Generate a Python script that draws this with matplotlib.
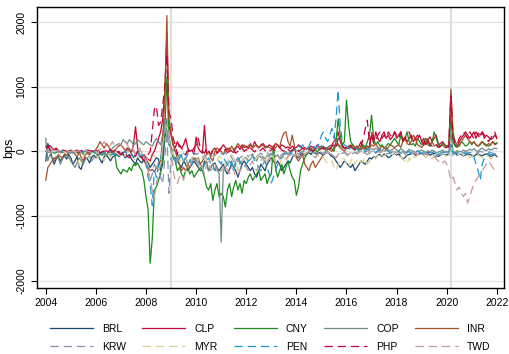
import numpy as np
import matplotlib
matplotlib.use("Agg")
import matplotlib.pyplot as plt

# monthly observations, Jan 2004 - Jan 2022 (bps)
brl = [
    -150, 120, 30, -100, -200, -120, -80, -150, -100, -60, -120, -50,
    -100, -200, -150, -80, -250, -280, -150, -100, -120, -180, -90, -60,
    -100, -50, -130, -180, -80, -60, -100, -150, -90, -70, -50, -80,
    -60, -40, -100, -80, -50, -120, -160, -200, -100, -150, -180, -120,
    -100, -180, -250, -200, -150, -100, -120, -300, -200, 200, 500, 150,
    50, -50, -100, -150, -200, -250, -150, -200, -300, -250, -200, -150,
    -200, -250, -300, -280, -150, -200, -300, -250, -200, -180, -250, -300,
    -250, -200, -300, -350, -280, -200, -250, -300, -400, -300, -200, -150,
    -200, -250, -300, -250, -350, -400, -300, -200, -250, -300, -200, -150,
    -100, -150, -200, -150, -200, -300, -250, -200, -150, -180, -100, -50,
    -80, -100, -50, -30, -60, -40, -20, -50, 0, -30, -50, -20,
    -40, -60, -30, -10, -50, -80, -100, -150, -200, -250, -200, -150,
    -180, -220, -250, -200, -300, -250, -200, -150, -180, -200, -150, -100,
    -120, -80, -100, -60, -50, -80, -40, -60, -100, -80, -50, -30,
    -60, -40, -80, -120, -100, -60, -50, -40, -30, -60, -50, -40,
    -30, -50, -40, -20, -60, -40, -30, -50, -80, -60, -40, -50,
    -60, -40, 100, -50, -30, -60, -40, -50, -70, -60, -40, -50,
    -60, -80, -50, -40, -60, -70, -50, -40, -60, -80, -70, -50,
    -80]
clp = [
    80, 60, 90, 50, 20, 30, 10, 0, 20, 10, 0, -10,
    20, 0, 10, -20, 0, 10, -10, 0, 20, 10, -10, 0,
    10, 0, -20, -10, 0, 10, -30, -10, 0, 20, -20, 0,
    -50, -30, 0, 50, 20, -20, 100, 380, 50, -80, -100, -50,
    -100, -120, -150, -50, 0, 100, 200, 300, 500, 900, 1820, 400,
    250, 100, 50, 150, 80, 50, 100, 200, 50, 0, 20, -50,
    220, 50, 0, -30, 400, -50, 0, -80, 20, 50, -30, 0,
    50, 100, 60, 20, 50, 0, -20, 50, 80, 30, 100, 60,
    80, 40, 100, 60, 150, 80, 50, 100, 120, 80, 60, 100,
    80, 50, 120, 100, 60, 100, 80, 50, 70, 40, 80, 50,
    60, 100, 80, 40, 60, 30, 50, 80, 60, 40, 100, 60,
    80, 50, 40, 60, 80, 100, 150, 200, 300, 150, 100, 50,
    60, 40, 80, 100, 60, 40, 80, 150, 60, 40, 80, 60,
    250, 120, 300, 200, 150, 250, 300, 200, 250, 180, 220, 300,
    200, 250, 300, 180, 220, 150, 200, 250, 150, 200, 180, 250,
    150, 200, 100, 180, 220, 150, 200, 250, 100, 120, 150, 100,
    80, 60, 900, 200, 100, 80, 150, 200, 250, 300, 250, 200,
    250, 300, 200, 280, 250, 300, 200, 250, 220, 180, 200, 250,
    200]
cny = [
    0, -20, -10, 0, -30, -20, 0, -10, -20, 0, -10, 0,
    -20, -10, 0, -30, -20, -10, -50, -40, -20, -30, -10, -20,
    -30, -50, -40, -60, -30, -50, -40, -60, -50, -30, -250, -300,
    -350, -280, -300, -320, -250, -300, -200, -220, -180, -250, -300, -450,
    -700, -900, -1730, -1350, -600, -550, -450, -350, -100, 300, 1150, 200,
    50, -100, -150, -300, -250, -350, -400, -300, -250, -350, -300, -400,
    -350, -300, -250, -300, -400, -550, -600, -500, -760, -600, -500, -700,
    -650, -700, -860, -600, -500, -700, -550, -450, -600, -500, -650, -450,
    -500, -400, -350, -450, -400, -350, -300, -450, -400, -350, -500, -400,
    -350, 90, -250, -400, -300, -200, -350, -250, -150, -300, -400, -450,
    -680, -550, -300, -200, -100, -50, 0, 50, 0, 30, -20, 50,
    80, 30, 60, 20, 50, 40, 0, 150, 500, 250, 100, 150,
    790, 400, 150, 100, 50, 80, 20, 50, 100, 60, 150, 250,
    560, 200, 100, 150, 80, 100, 50, 80, 120, 100, 150, 200,
    150, 100, 250, 150, 200, 300, 150, 100, 120, 80, 200, 150,
    100, 150, 200, 100, 80, 150, 300, 200, 100, 80, 120, 100,
    80, 100, 500, 150, 80, 60, 100, 150, 120, 80, 100, 150,
    120, 150, 100, 80, 100, 150, 120, 100, 80, 100, 150, 120,
    130]
cop = [
    200, -150, -50, -100, -150, -80, -100, -200, -120, -80, -60, -100,
    -150, -200, -250, -180, -100, -150, -200, -120, -100, -80, -150, -100,
    -80, -100, -50, 0, -50, -80, -30, 0, 50, 80, 100, 120,
    100, 180, 150, 120, 180, 150, 100, 120, 180, 150, 120, 100,
    150, 120, 100, 80, 150, 200, 150, 100, 250, 500, 300, 100,
    50, 20, 0, -50, -100, -80, -150, -100, -200, -150, -100, -120,
    -100, -150, -200, -250, -200, -150, -300, -250, -200, -300, -250, -350,
    -1400, -300, -250, -200, -150, -200, -250, -150, -100, -200, -150, -100,
    -100, -150, -120, -80, -100, -150, -50, -100, -80, -120, -60, -80,
    -50, -30, -80, -60, -100, -50, -30, 0, -50, -20, 0, 30,
    0, 20, -30, 0, 30, 50, 20, 0, 40, 20, 50, 30,
    60, 80, 40, 50, 80, 100, 50, 80, 120, 80, 60, 40,
    50, 80, 60, 40, 20, 50, 30, 60, 40, 20, 50, 30,
    40, 20, 50, 30, 0, 20, 40, 60, 20, 0, 30, 50,
    20, 0, 40, 20, -20, 0, 30, 10, 0, -20, 10, 0,
    20, 0, -20, 10, -10, 20, 0, -30, -10, 0, 20, -10,
    0, -20, 300, 0, -20, 10, 0, -10, 20, 0, 10, 30,
    20, 40, 10, 0, 30, 50, 20, 10, 40, 20, 30, 50,
    40]
inr = [
    -450, -250, -200, -150, -100, -120, -50, -80, -100, -40, -60, -20,
    -30, 0, -50, -80, -20, -100, -150, -50, -30, -60, -20, 0,
    30, 80, 150, 100, 50, 120, 80, 20, -50, 0, 50, 80,
    100, 60, 20, 0, 50, -50, -100, -50, 0, -80, -100, -150,
    -200, -250, -300, -280, -320, -250, -200, -150, 200, 800, 2100, 500,
    300, 100, 0, -100, -200, -300, -250, -300, -200, -250, -150, -100,
    -150, -100, -200, -150, -100, -50, 0, -100, -150, 0, 50, 30,
    0, -50, 20, 50, 0, 80, 30, 60, 120, 80, 50, 100,
    60, 80, 120, 50, 80, 100, 60, 80, 100, 50, 80, 60,
    40, 80, 50, 100, 60, 200, 280, 300, 150, 80, 250, 100,
    -100, -150, -100, -50, -200, -250, -300, -200, -150, -250, -200, -150,
    -100, -50, 0, 50, 20, 0, 50, 80, 100, 50, 30, 0,
    50, 80, 100, 50, 30, 80, 50, 20, 60, 40, 80, 50,
    100, 80, 120, 60, 40, 80, 50, 30, 60, 100, 80, 60,
    80, 100, 60, 150, 200, 120, 100, 150, 250, 200, 100, 80,
    60, 100, 150, 200, 100, 150, 80, 100, 60, 80, 100, 60,
    80, 100, 960, 300, 150, 100, 80, 150, 200, 250, 200, 150,
    100, 150, 100, 80, 120, 150, 100, 80, 120, 100, 150, 100,
    120]
krw = [
    0, -20, 10, -30, -10, 0, -20, -10, 0, -30, -10, 0,
    -20, -10, 0, -30, -50, -20, -10, 0, -20, -40, -10, 0,
    -30, -50, -20, 0, -60, -40, -30, -20, -50, -30, -10, -40,
    -20, -30, -10, 0, -20, 10, 0, -30, -20, 0, -50, -80,
    -150, -300, -450, -350, -200, -250, -300, -400, -500, -100, 300, -650,
    -100, -200, -150, -100, -50, -80, -30, -60, -20, -50, -30, -10,
    -50, -30, -80, -100, -60, -120, -80, -50, -30, -60, -40, -20,
    -30, -50, -20, -60, -40, -100, -150, -200, -150, -100, -80, -60,
    -50, -80, -60, -40, -100, -80, -50, -30, -60, -40, -20, -50,
    -30, -60, -80, -50, -120, -100, -60, -40, -30, -20, -50, -30,
    -20, -40, -30, -10, 0, -20, 10, -10, -30, -20, 0, -10,
    -20, -30, -10, -40, -20, -50, -80, -100, -60, -40, -30, -20,
    -50, -80, -60, -30, -20, -40, -10, 0, -20, -30, -50, -30,
    -20, -10, -30, 0, -20, -10, 0, -30, -40, -20, -10, 0,
    -10, -30, -20, 0, -40, -50, -30, -20, -10, -30, -20, -40,
    -30, -20, -40, -60, -80, -50, -60, -90, -40, -30, -20, -10,
    -20, -40, -100, -50, -30, -20, -10, 0, -20, -10, -30, -20,
    -20, -10, -30, -20, 0, -10, -20, -30, -10, -20, -30, -40,
    -30]
myr = [
    0, 0, 10, 0, -10, 0, 0, 10, 0, -10, 0, 0,
    0, 10, 0, -50, -220, -150, -80, -20, -50, -100, -30, 0,
    -50, -100, -30, -80, -150, -60, -20, -100, -40, 0, -30, -50,
    -60, -30, -80, 0, -50, -20, -100, -150, -80, -50, -30, -60,
    -80, -150, -200, -100, -50, -150, -250, -200, 100, 300, 450, 150,
    50, -50, -100, -150, -100, -200, -150, -100, -150, -200, -100, -50,
    -100, -150, -80, -50, -100, -150, -60, -30, -80, -100, -150, -80,
    -100, -150, -200, -150, -100, -50, -100, -150, -300, -200, -150, -100,
    -150, -100, -50, -80, -150, -100, -60, -50, -100, -150, -80, -50,
    -60, -100, -150, -80, -120, -200, -150, -100, -80, -50, -100, -60,
    -50, -80, -30, -10, -50, -20, 0, -30, -60, -100, -80, -50,
    -80, -100, -150, -200, -180, -150, -250, -300, -200, -150, -100, -120,
    -200, -250, -150, -100, -200, -150, -100, -180, -150, -100, -200, -150,
    -100, -80, -120, -60, -100, -50, -80, -40, -60, -30, -50, -20,
    -50, -100, -80, -120, -150, -200, -100, -150, -80, -100, -60, -50,
    -80, -60, -100, -50, -80, -120, -60, -40, -80, -50, -30, -60,
    -80, -100, 100, -50, -80, -60, -40, -30, -60, -80, -50, -100,
    -80, -60, -100, -50, -80, -100, -60, -50, -80, -120, -100, -80,
    -60]
pen = [
    20, 0, 30, 10, -20, 0, 20, -10, 0, 10, -20, 0,
    10, -30, 0, -20, 10, 0, -10, 20, 0, -30, -10, 0,
    -20, 0, -50, -30, -10, -40, -20, 0, -30, -50, -20, -10,
    -30, -20, 0, -40, -60, -30, -100, -50, -20, -80, -50, -100,
    -200, -400, -500, -835, -300, -400, -200, -100, 0, 300, 500, 100,
    50, -100, -150, -200, -100, -50, -150, -100, -50, -150, -200, -100,
    -150, -200, -250, -300, -200, -150, -100, -200, -250, -300, -200, -150,
    -200, -100, -150, -200, -250, -150, -300, -200, -100, -150, -200, -250,
    -200, -150, -100, -50, -150, -200, -250, -300, -200, -150, -250, -350,
    -490, -400, -300, -200, -150, -100, -50, -30, -80, -50, 0, 30,
    50, 80, 60, 100, 50, 30, 80, 150, 100, 50, 80, 120,
    250, 300, 200, 150, 250, 350, 200, 500, 945, 400, 150, 100,
    80, 50, 30, 60, 20, 40, 0, 30, 20, -10, 30, 10,
    20, 0, -20, 10, 30, 0, -10, 20, 0, -30, -10, 0,
    -20, 0, -30, -10, -50, -20, 0, -40, -30, -10, 0, -20,
    -30, -50, -20, -40, -10, -30, 0, -20, -50, -30, -10, -20,
    -40, -20, 100, -30, -20, -40, -50, -30, -20, -40, -30, -20,
    -50, -80, -200, -300, -450, -200, -100, -50, -30, -60, -40, -20,
    -50]
php = [
    50, 80, 20, 0, 30, 50, 10, -20, 0, 20, -10, 0,
    10, -20, 0, 20, -10, 0, 30, 10, -20, 0, 10, -10,
    0, 20, -30, -10, 10, -20, 0, 30, -10, 0, 20, -30,
    -50, -20, 0, -80, -100, -50, -30, -80, 0, -50, -100, -150,
    -100, -50, 0, 300, 650, 700, 400, 450, 700, 1000, 1500, 600,
    500, 200, 100, -50, 100, 50, 0, -50, 20, -30, 0, 50,
    100, 200, 50, 0, -30, 50, 0, -50, 20, 0, -30, 20,
    50, 0, 30, -20, 0, 50, 20, -30, 0, 20, 50, 0,
    30, 0, 50, 20, -10, 30, 0, 20, 50, 10, -20, 0,
    20, 50, 0, 30, 60, 20, 0, 50, 30, 0, 20, 50,
    30, 0, 20, 50, 30, 10, 40, 20, 0, 30, 50, 20,
    40, 60, 20, 50, 30, 80, 100, 50, 200, 150, 80, 50,
    60, 30, 80, 50, 20, 40, 60, 80, 200, 350, 480, 100,
    300, 200, 150, 250, 300, 200, 250, 200, 300, 250, 200, 300,
    250, 200, 300, 150, 200, 250, 300, 200, 150, 200, 250, 200,
    150, 100, 200, 150, 100, 80, 120, 100, 60, 80, 100, 50,
    60, 80, 850, 200, 150, 100, 200, 250, 300, 250, 200, 300,
    250, 200, 300, 250, 200, 300, 250, 200, 150, 200, 250, 300,
    200]
twd = [
    0, 30, -20, 10, -10, 0, 20, -30, 0, 10, -20, 0,
    -10, 20, -30, 0, 10, -20, 0, 30, -10, 0, -30, 10,
    0, -20, 30, 100, 150, 80, 50, 100, 150, 80, 50, 120,
    100, 80, 150, 100, 50, 80, 20, -50, 0, 50, -30, -80,
    -150, -300, -450, -600, -700, -500, -300, -200, 100, 300, 500, 200,
    0, -300, -450, -500, -400, -350, -450, -300, -200, -250, -150, -100,
    -150, -200, -300, -250, -350, -200, -150, -300, -250, -200, -300, -350,
    -300, -250, -200, -300, -350, -250, -300, -400, -350, -300, -250, -200,
    -250, -300, -200, -150, -250, -300, -200, -150, -100, -200, -150, -100,
    -150, -100, -200, -150, -100, -50, -100, -150, -80, -50, -100, -80,
    -50, -80, -30, -10, -40, -20, 0, -30, -60, -100, -50, -30,
    -20, -50, -30, -10, -40, -60, -80, -100, -50, -30, -20, -10,
    -30, -50, -20, 0, -30, -10, -20, 0, -30, -10, 0, -20,
    0, -10, 10, 0, -20, 0, 10, -10, 0, 20, 0, -10,
    -20, 0, -30, -10, -50, -80, -60, -40, -30, -20, -50, -30,
    -40, -60, -30, -50, -80, -100, -80, -120, -150, -200, -180, -150,
    -200, -300, -450, -400, -500, -600, -550, -650, -700, -650, -800, -700,
    -600, -500, -450, -400, -350, -300, -250, -200, -150, -200, -250, -300,
    -340]

names = ["BRL", "CLP", "CNY", "COP", "INR", "KRW", "MYR", "PEN", "PHP", "TWD"]
series = [brl, clp, cny, cop, inr, krw, myr, pen, php, twd]
colors = ["#1a476f", "#c10534", "#1a8a1a", "#6e8e84", "#a0522d",
          "#8393ad", "#d9cf9c", "#1f95d0", "#c10534", "#c29c98"]
dashed = [False] * 5 + [True] * 5

events = [2009.0, 2020.17]

plt.rcParams["font.family"] = ["Liberation Sans", "DejaVu Sans"]
plt.rcParams["lines.scale_dashes"] = False
plt.rcParams["axes.unicode_minus"] = False

fig = plt.figure(figsize=(5.1, 3.54), dpi=100)
ax = fig.add_axes([0.0725, 0.1864, 0.9155, 0.7938])

for v in events:
    ax.axvline(v, color="#dcdcdc", lw=1.3, zorder=1)

handles = []
for name, vals, c, d in zip(names, series, colors, dashed):
    t = 2004 + np.arange(len(vals)) / 12
    ln, = ax.plot(t, vals, color=c, lw=0.9, label=name, zorder=2)
    if d:
        ln.set_dashes((6, 3.5))
    handles.append(ln)

ax.set_xlim(2003.65, 2022.28)
ax.set_ylim(-2114, 2231)
ax.set_xticks(range(2004, 2023, 2))
ax.set_yticks([-2000, -1000, 0, 1000, 2000])
ax.grid(axis="y", color="#e4e4e4", lw=1.0, zorder=0)
ax.set_axisbelow(True)
ax.tick_params(labelsize=7.5, length=4, width=0.8, color="black")
for lbl in ax.get_yticklabels():
    lbl.set_rotation(90)
    lbl.set_va("center")
for s in ax.spines.values():
    s.set_linewidth(1.0)
ax.set_ylabel("bps", fontsize=9, labelpad=1)

# legend is filled column by column, so interleave the two rows
order = [0, 5, 1, 6, 2, 7, 3, 8, 4, 9]
fig.legend([handles[i] for i in order], [names[i] for i in order],
           ncol=5, loc="center", bbox_to_anchor=(0.53, 0.046),
           frameon=False, fontsize=7.5, handlelength=4.1,
           handletextpad=0.9, columnspacing=1.55, labelspacing=0.75)

fig.savefig("out.png", dpi=100)
